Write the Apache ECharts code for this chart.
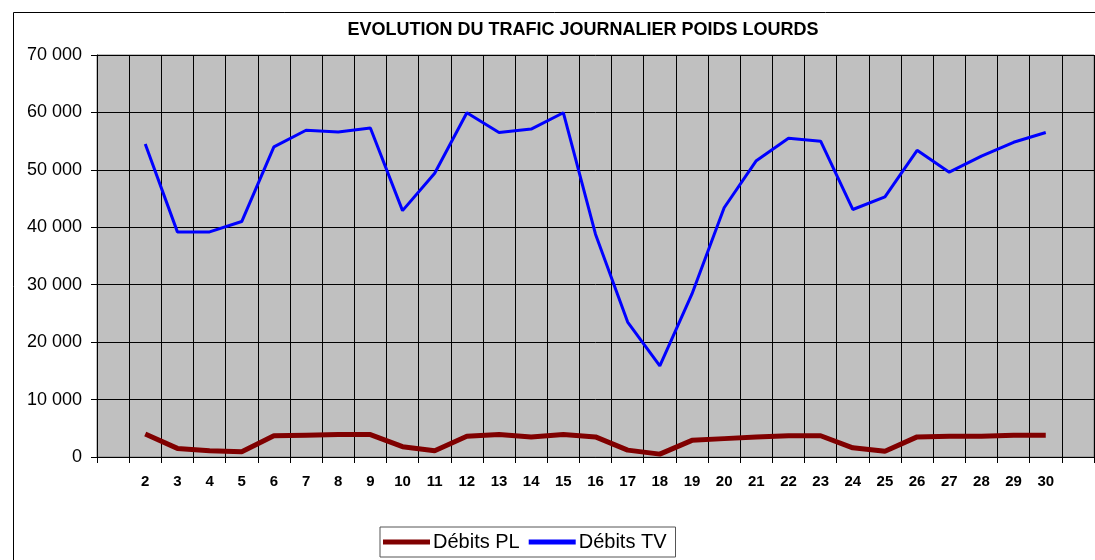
<!DOCTYPE html>
<html>
<head>
<meta charset="utf-8">
<script src="https://cdn.jsdelivr.net/npm/echarts@6/dist/echarts.min.js"></script>
<style>
  html, body { margin: 0; padding: 0; background: #fff; }
</style>
</head>
<body>
<div id="chart" style="width:1095px;height:560px"></div>
<script>
// jours (premier et dernier emplacements vides comme sur l'original)
var jours = ['', '2', '3', '4', '5', '6', '7', '8', '9', '10', '11', '12', '13', '14', '15', '16',
  '17', '18', '19', '20', '21', '22', '23', '24', '25', '26', '27', '28', '29', '30', '']

var debitsPL = [null, 4000, 1500, 1100, 900, 3700, 3800, 3900, 3900, 1800, 1100, 3600, 3900, 3500, 3900, 3500,
  1200, 500, 2900, 3200, 3500, 3700, 3700, 1600, 1000, 3500, 3600, 3600, 3800, 3800, null]

var debitsTV = [null, 54500, 39200, 39200, 41000, 54000, 56900, 56600, 57300, 42900, 49400, 59950, 56500, 57100, 59950, 38800,
  23500, 15850, 28400, 43400, 51600, 55500, 55000, 43100, 45300, 53400, 49600, 52400, 54800, 56500, null]

var yTicks = [0, 10000, 20000, 30000, 40000, 50000, 60000, 70000]

var myChart = echarts.init(document.getElementById('chart'))

function fmt (v) {
  return String(v).replace(/\B(?=(\d{3})+(?!\d))/g, ' ')
}

var option = {
  backgroundColor: '#fff',
  animation: false,
  textStyle: { fontFamily: 'Liberation Sans, Arial, sans-serif' },
  title: {
    text: 'EVOLUTION DU TRAFIC JOURNALIER POIDS LOURDS',
    left: 578,
    textAlign: 'center',
    top: 16,
    textStyle: { fontSize: 18, fontWeight: 'bold', color: '#000' }
  },
  // cadre extérieur
  graphic: [{
    type: 'rect',
    left: 11,
    top: 10,
    shape: { width: 1200, height: 700 },
    style: { fill: 'none', stroke: '#000', lineWidth: 1 },
    silent: true
  }],
  legend: {
    left: 380,
    top: 527,
    padding: [5, 9, 5, 3],
    itemGap: 9,
    itemWidth: 47,
    itemHeight: 5,
    icon: 'rect',
    borderColor: '#555',
    borderWidth: 1,
    textStyle: { fontSize: 20, color: '#000', padding: [0, 0, 0, -2] },
    data: ['Débits PL', 'Débits TV']
  },
  grid: {
    left: 97,
    right: 1,
    top: 55,
    bottom: 103,
    show: true,
    backgroundColor: '#c0c0c0',
    borderColor: '#808080',
    borderWidth: 1
  },
  xAxis: {
    type: 'category',
    data: jours,
    boundaryGap: true,
    axisLine: { lineStyle: { color: '#000', width: 1 } },
    axisTick: { show: true, length: 6, lineStyle: { color: '#000' } },
    axisLabel: { fontSize: 15, fontWeight: 'bold', color: '#000', margin: 17, interval: 0 },
    splitLine: { show: true, interval: 0, lineStyle: { color: '#000', width: 1 } }
  },
  yAxis: {
    type: 'value',
    min: yTicks[0],
    max: yTicks[yTicks.length - 1],
    interval: 10000,
    axisLine: { show: true, lineStyle: { color: '#000' } },
    axisTick: { show: true, length: 6, lineStyle: { color: '#000' } },
    axisLabel: { fontSize: 18, color: '#000', margin: 15, formatter: fmt },
    splitLine: { show: true, lineStyle: { color: '#000', width: 1 } }
  },
  series: [
    {
      name: 'Débits PL',
      type: 'line',
      data: debitsPL,
      showSymbol: false,
      symbol: 'none',
      color: '#800000',
      lineStyle: { color: '#800000', width: 5 }
    },
    {
      name: 'Débits TV',
      type: 'line',
      data: debitsTV,
      showSymbol: false,
      symbol: 'none',
      color: '#0000ff',
      lineStyle: { color: '#0000ff', width: 3 }
    }
  ]
}

myChart.setOption(option)
</script>
</body>
</html>
